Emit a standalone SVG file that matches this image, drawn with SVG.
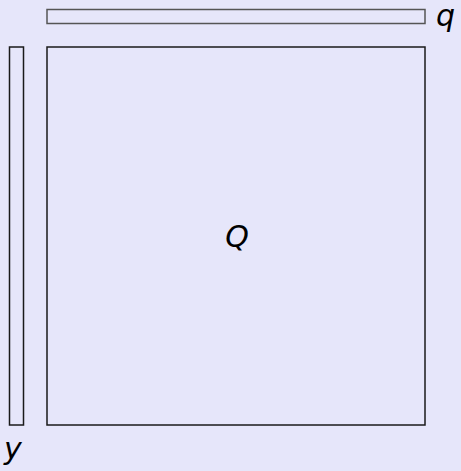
<svg xmlns="http://www.w3.org/2000/svg" width="461" height="471" viewBox="0 0 461 471">
<style>
.box{fill:#e6e6fa;stroke:#1a1a1a;stroke-width:1.5}
.lbl{font-family:"DejaVu Sans",sans-serif;font-style:italic;font-size:30px;fill:#000}
</style>
<rect width="461" height="471" fill="#e6e6fa"/>
<g id="q">
<rect class="box" x="47" y="9.5" width="378" height="14" style="stroke:#555"/>
<text class="lbl" x="436" y="26">q</text>
</g>
<g id="y">
<rect class="box" x="9.5" y="47" width="14" height="378"/>
<text class="lbl" x="4" y="459">y</text>
</g>
<g id="Q">
<rect class="box" x="47" y="47" width="378" height="378"/>
<text class="lbl" x="237" y="247" text-anchor="middle">Q</text>
</g>
<g id="connectors"></g>
</svg>
